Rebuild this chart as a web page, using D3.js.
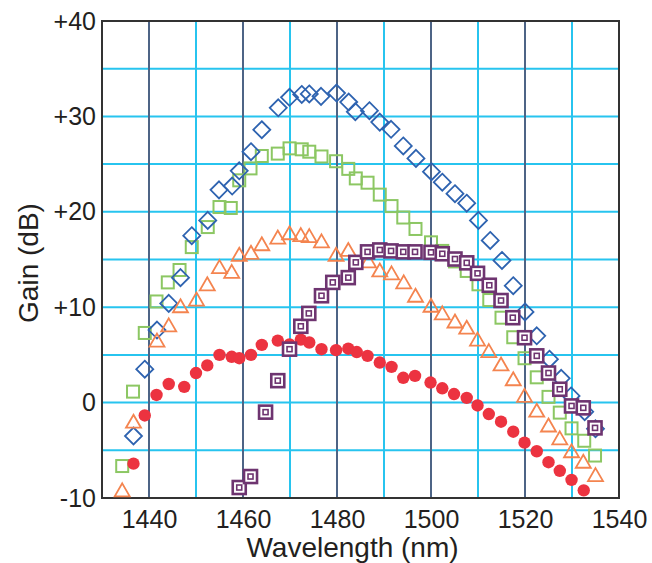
<!DOCTYPE html>
<html>
<head>
<meta charset="utf-8">
<script src="https://cdn.jsdelivr.net/npm/d3@7"></script>
<style>
  body { margin: 0; background: #fff; }
  text { font-family: "Liberation Sans", Arial, sans-serif; fill: #231f20; }
</style>
</head>
<body>
<svg width="652" height="563"></svg>
<script>
// gain curves (wavelength nm, gain dB)
var diamondWl = [1436.7, 1439.1, 1441.7, 1444.2, 1446.7, 1449.1, 1452.5, 1454.9, 1457.7, 1459.2, 1461.7, 1464.0, 1467.5, 1469.9, 1472.5, 1474.1, 1476.6, 1479.9, 1482.5, 1483.9, 1486.9, 1489.1, 1491.5, 1494.1, 1496.8, 1500.1, 1502.4, 1505.1, 1507.6, 1510.1, 1512.6, 1515.1, 1517.5, 1520.0, 1522.5, 1525.2, 1527.7, 1529.8, 1532.7, 1535.0];
var diamondGain = [-3.5, 3.5, 7.6, 10.4, 13.1, 17.5, 19.1, 22.3, 22.7, 24.3, 26.3, 28.6, 30.9, 32.0, 32.3, 32.35, 32.1, 32.45, 31.5, 30.5, 30.6, 29.4, 28.65, 26.9, 25.6, 24.2, 23.1, 21.9, 20.9, 19.1, 17.0, 14.9, 12.25, 9.5, 7.0, 4.55, 2.55, 0.7, -0.95, -2.75];

var squareWl = [1434.3, 1436.6, 1439.1, 1441.6, 1444.0, 1446.5, 1449.1, 1452.5, 1455.0, 1457.4, 1459.2, 1461.6, 1464.0, 1467.4, 1469.9, 1472.5, 1474.1, 1476.7, 1479.8, 1482.4, 1484.0, 1486.5, 1489.1, 1491.6, 1494.1, 1496.7, 1500.0, 1502.4, 1505.1, 1507.6, 1510.1, 1512.4, 1515.0, 1517.5, 1519.9, 1522.5, 1525.0, 1527.4, 1529.9, 1532.6, 1534.9];
var squareGain = [-6.65, 1.15, 7.3, 10.6, 12.6, 13.9, 16.3, 18.4, 20.5, 20.4, 23.3, 24.55, 25.85, 26.1, 26.65, 26.55, 26.3, 25.8, 25.3, 24.5, 23.5, 23.05, 21.8, 20.6, 19.4, 18.2, 16.8, 15.9, 14.8, 13.8, 12.4, 10.75, 8.9, 6.85, 4.65, 2.65, 0.6, -1.05, -2.7, -4.0, -5.55];

var triWl = [1434.3, 1436.7, 1441.7, 1444.2, 1446.7, 1450.1, 1452.4, 1455.0, 1457.6, 1459.2, 1461.7, 1464.0, 1467.4, 1469.9, 1472.3, 1474.1, 1476.7, 1479.8, 1482.4, 1486.7, 1489.1, 1491.6, 1494.2, 1496.7, 1500.0, 1502.4, 1505.1, 1507.6, 1509.9, 1512.3, 1514.9, 1517.5, 1519.9, 1522.5, 1525.0, 1527.4, 1529.9, 1532.4, 1535.0];
var triGain = [-9.2, -2.0, 6.5, 8.1, 10.1, 10.8, 12.4, 14.2, 13.7, 15.5, 15.7, 16.6, 17.3, 17.75, 17.55, 17.45, 16.9, 15.5, 16.0, 14.8, 13.85, 13.55, 12.6, 11.2, 10.15, 9.35, 8.5, 7.85, 6.6, 5.4, 4.0, 2.45, 0.7, -0.85, -2.4, -3.75, -5.1, -6.2, -7.6];

var dotWl = [1436.7, 1439.1, 1441.6, 1444.2, 1447.5, 1450.0, 1452.4, 1455.0, 1457.6, 1459.2, 1461.7, 1464.0, 1467.4, 1469.9, 1472.3, 1474.1, 1476.7, 1479.8, 1482.4, 1484.2, 1486.5, 1489.1, 1491.6, 1494.1, 1496.6, 1499.9, 1502.4, 1504.9, 1507.6, 1509.9, 1512.3, 1514.9, 1517.5, 1519.9, 1522.5, 1525.0, 1527.4, 1529.9, 1532.5];
var dotGain = [-6.4, -1.35, 0.8, 1.95, 1.65, 3.1, 3.9, 5.0, 4.8, 4.65, 5.0, 6.05, 6.5, 6.1, 6.6, 6.3, 5.6, 5.5, 5.65, 5.3, 4.9, 4.2, 3.75, 2.6, 2.8, 2.1, 1.5, 0.9, 0.5, -0.3, -1.2, -2.0, -3.05, -4.2, -5.1, -6.25, -7.15, -8.1, -9.2];

var boxWl = [1459.2, 1461.6, 1464.8, 1467.4, 1469.9, 1472.3, 1474.0, 1476.7, 1479.1, 1482.4, 1484.0, 1486.5, 1489.1, 1491.5, 1494.1, 1496.6, 1500.0, 1502.4, 1505.1, 1507.6, 1509.9, 1512.4, 1514.9, 1517.4, 1519.9, 1522.5, 1525.0, 1527.4, 1529.9, 1532.4, 1534.9];
var boxGain = [-8.9, -7.75, -1.0, 2.3, 5.6, 8.0, 9.35, 11.2, 12.6, 13.1, 14.7, 15.8, 16.0, 15.9, 15.8, 15.8, 15.75, 15.6, 15.05, 14.65, 13.55, 12.3, 10.7, 8.9, 6.8, 4.9, 3.1, 1.4, -0.35, -0.55, -2.65];

var xTicks = [1440, 1460, 1480, 1500, 1520, 1540];
var yTicks = [-10, 0, 10, 20, 30, 40];
var yTickLabels = ["-10", "0", "+10", "+20", "+30", "+40"];

var svg = d3.select("svg"),
    width = +svg.attr("width"),
    height = +svg.attr("height");
var margin = {top: 21, right: 33, bottom: 65, left: 102};
var w = width - margin.left - margin.right,
    h = height - margin.top - margin.bottom;

var x = d3.scaleLinear().domain([1430, 1540]).range([0, w]);
var y = d3.scaleLinear().domain([-10, 40]).range([h, 0]);

var g = svg.append("g").attr("transform", "translate(" + margin.left + "," + margin.top + ")");

// grid: light cyan every 5 dB and at odd tens, slate at even tens
var grid = g.append("g").attr("class", "grid");
grid.selectAll("line.h").data(d3.range(-5, 40, 5))
  .enter().append("line")
    .attr("x1", 0).attr("x2", w)
    .attr("y1", d => y(d)).attr("y2", d => y(d))
    .attr("stroke", "#27c4ef").attr("stroke-width", 2);
grid.selectAll("line.vc").data([1450, 1470, 1490, 1510, 1530])
  .enter().append("line")
    .attr("y1", 0).attr("y2", h)
    .attr("x1", d => x(d)).attr("x2", d => x(d))
    .attr("stroke", "#27c4ef").attr("stroke-width", 2);
grid.selectAll("line.vd").data([1440, 1460, 1480, 1500, 1520])
  .enter().append("line")
    .attr("y1", 0).attr("y2", h)
    .attr("x1", d => x(d)).attr("x2", d => x(d))
    .attr("stroke", "#4d6486").attr("stroke-width", 2);

// axes (labels only, frame drawn separately)
var xAxis = g.append("g").attr("transform", "translate(0," + h + ")")
  .call(d3.axisBottom(x).tickValues(xTicks).tickSize(0).tickPadding(12)
    .tickFormat(d3.format("d")));
var yAxis = g.append("g")
  .call(d3.axisLeft(y).tickValues(yTicks).tickSize(0).tickPadding(6)
    .tickFormat((d, i) => yTickLabels[i]));
[xAxis, yAxis].forEach(a => {
  a.select(".domain").remove();
  a.selectAll("text").style("font-size", "25px").attr("fill", "#231f20")
    .style("font-family", "'Liberation Sans', Arial, sans-serif");
});

g.append("rect").attr("width", w).attr("height", h)
  .attr("fill", "none").attr("stroke", "#333").attr("stroke-width", 2);

function pts(wl, gain) { return wl.map((d, i) => ({wl: d, gain: gain[i]})); }

// green hollow squares
g.append("g").selectAll("rect").data(pts(squareWl, squareGain))
  .enter().append("rect")
    .attr("x", d => x(d.wl) - 6).attr("y", d => y(d.gain) - 6)
    .attr("width", 12).attr("height", 12)
    .attr("fill", "none").attr("stroke", "#8cc763").attr("stroke-width", 2);

// blue hollow diamonds
g.append("g").selectAll("path").data(pts(diamondWl, diamondGain))
  .enter().append("path")
    .attr("transform", d => "translate(" + x(d.wl) + "," + y(d.gain) + ")")
    .attr("d", "M0,-8.5L8.5,0L0,8.5L-8.5,0Z")
    .attr("fill", "none").attr("stroke", "#2e63b0").attr("stroke-width", 1.8);

// orange hollow triangles
g.append("g").selectAll("path").data(pts(triWl, triGain))
  .enter().append("path")
    .attr("transform", d => "translate(" + x(d.wl) + "," + y(d.gain) + ")")
    .attr("d", "M0,-7L7.5,6L-7.5,6Z")
    .attr("fill", "none").attr("stroke", "#f4844f").attr("stroke-width", 1.8);

// red filled circles
g.append("g").selectAll("circle").data(pts(dotWl, dotGain))
  .enter().append("circle")
    .attr("cx", d => x(d.wl)).attr("cy", d => y(d.gain)).attr("r", 6.2)
    .attr("fill", "#ec3340");

// purple double squares
var box = g.append("g").selectAll("g").data(pts(boxWl, boxGain))
  .enter().append("g")
    .attr("transform", d => "translate(" + x(d.wl) + "," + y(d.gain) + ")");
box.append("rect").attr("x", -6.5).attr("y", -6.5).attr("width", 13).attr("height", 13)
  .attr("fill", "#fff").attr("stroke", "#6e3470").attr("stroke-width", 2.6);
box.append("rect").attr("x", -2.5).attr("y", -2.5).attr("width", 5).attr("height", 5)
  .attr("fill", "none").attr("stroke", "#6e3470").attr("stroke-width", 1.6);

// axis titles
svg.append("text")
  .attr("x", margin.left + w / 2 - 8).attr("y", 557)
  .attr("text-anchor", "middle").style("font-size", "28px")
  .text("Wavelength (nm)");
svg.append("text")
  .attr("transform", "translate(38," + (margin.top + 242) + ") rotate(-90)")
  .attr("text-anchor", "middle").style("font-size", "28px")
  .text("Gain (dB)");
</script>
</body>
</html>
